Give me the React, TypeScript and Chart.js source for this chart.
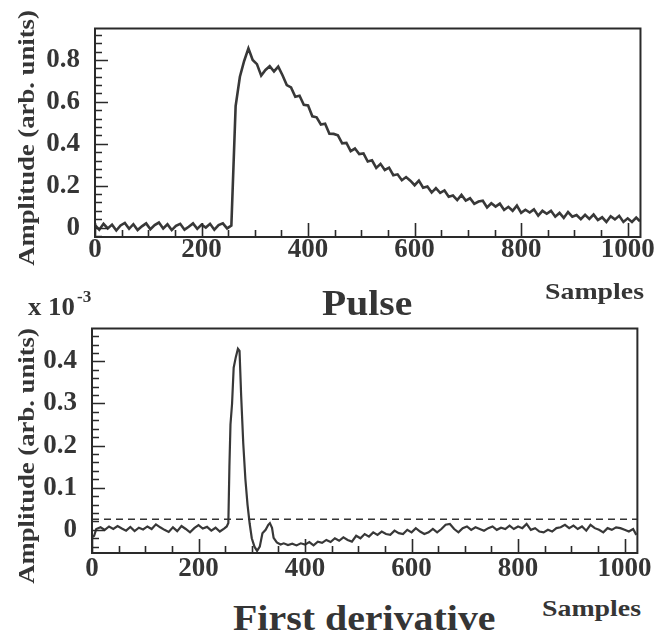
import React, { useEffect, useRef } from "react";
import { Chart, registerables } from "chart.js";

Chart.register(...registerables);

// ---------- data ----------
const SAMPLE_STEP = 8;
const LAST_SAMPLE = 1023;

// Pulse amplitude (arb. units), one value every SAMPLE_STEP samples (last = sample 1023)
const pulseValues = [
  0.012, -0.010, 0.018, -0.004, 0.014, -0.014, 0.010, 0.022, -0.006, 0.016,
  -0.012, 0.006, 0.020, -0.008, 0.012, 0.024, -0.004, 0.016, -0.012, 0.008,
  0.018, -0.010, 0.004, 0.020, -0.006, 0.014, 0.000, 0.018, -0.010, 0.012,
  0.020, -0.004, 0.010,
  0.58, 0.72, 0.795, 0.855, 0.80, 0.78, 0.725, 0.752, 0.77, 0.745, 0.768,
  0.727, 0.680, 0.669, 0.624, 0.629, 0.586, 0.583, 0.531, 0.526, 0.492,
  0.496, 0.448, 0.447, 0.440, 0.402, 0.404, 0.365, 0.377, 0.351, 0.354,
  0.315, 0.321, 0.285, 0.304, 0.275, 0.286, 0.250, 0.254, 0.226, 0.241,
  0.224, 0.202, 0.224, 0.190, 0.196, 0.167, 0.188, 0.166, 0.177, 0.147,
  0.153, 0.131, 0.156, 0.129, 0.140, 0.113, 0.124, 0.128, 0.096, 0.116,
  0.100, 0.114, 0.084, 0.099, 0.080, 0.105, 0.070, 0.085, 0.072, 0.087,
  0.057, 0.080, 0.066, 0.080, 0.052, 0.070, 0.046, 0.074, 0.052, 0.060,
  0.040, 0.061, 0.041, 0.062, 0.036, 0.049, 0.027, 0.054, 0.039, 0.056,
  0.027, 0.044, 0.027, 0.048,
  0.030,
];

// First derivative (units of 10^-3)
const derivSamples = [
  0, 4, 8, 16, 24, 32, 40, 48, 56, 64, 72, 80, 88, 96, 104, 112, 120, 128, 136, 144,
  152, 160, 168, 176, 184, 192, 200, 208, 216, 224, 232, 240, 248, 253, 256, 258, 260, 263, 266, 270,
  274, 277, 280, 284, 288, 292, 296, 300, 305, 310, 315, 320, 326, 331, 334, 338, 341, 347, 354, 360,
  368, 376, 384, 392, 400, 408, 416, 424, 432, 440, 448, 456, 464, 472, 480, 488, 496, 504, 512, 520,
  528, 536, 544, 552, 560, 568, 576, 584, 592, 600, 608, 616, 624, 632, 640, 648, 656, 664, 672, 680,
  688, 696, 704, 712, 720, 728, 736, 744, 752, 760, 768, 776, 784, 792, 800, 808, 816, 824, 832, 840,
  848, 856, 864, 872, 880, 888, 896, 904, 912, 920, 928, 936, 944, 952, 960, 968, 976, 984, 992, 1000,
  1008, 1016, 1022,
];
const derivValues = [
  -0.018, -0.014, 0.002, 0.006, 0.000, 0.008, 0.002, 0.009, 0.003, -0.002, 0.007, -0.003, 0.005, 0.001, 0.008, 0.002, 0.013, 0.006, 0.000, -0.005,
  0.006, -0.003, 0.009, 0.002, -0.006, 0.004, 0.011, 0.003, 0.007, -0.002, 0.005, -0.004, 0.003, 0.008, 0.016, 0.15, 0.25, 0.30, 0.385, 0.41,
  0.43, 0.425, 0.32, 0.205, 0.12, 0.06, 0.015, -0.02, -0.04, -0.05, -0.04, -0.008, 0.0, 0.012, 0.016, 0.005, -0.019, -0.03, -0.035, -0.032,
  -0.036, -0.033, -0.037, -0.032, -0.035, -0.029, -0.037, -0.028, -0.031, -0.024, -0.029, -0.020, -0.026, -0.018, -0.024, -0.028, -0.014, -0.020, -0.010, -0.016,
  -0.006, -0.012, -0.004, -0.010, -0.012, -0.002, -0.008, -0.010, 0.000, -0.006, 0.004, -0.004, -0.010, -0.006, 0.002, -0.006, 0.002, 0.012, 0.014, 0.002,
  -0.006, 0.004, 0.008, 0.000, 0.006, 0.002, -0.002, 0.004, 0.008, 0.000, 0.005, 0.002, 0.010, 0.002, 0.008, 0.004, 0.014, 0.000, 0.004, -0.004,
  -0.006, 0.000, -0.004, 0.004, 0.006, 0.012, 0.004, 0.010, 0.002, 0.008, -0.002, 0.012, 0.004, 0.000, -0.006, 0.004, 0.000, 0.006, 0.004, 0.000,
  -0.004, 0.002, -0.012,
];

const thresholdSamples = [0, 1024];
const thresholdValues = [0.025, 0.025];

const xTickValues = [0, 200, 400, 600, 800, 1000];
const pulseYTicks = [0, 0.2, 0.4, 0.6, 0.8];
const derivYTicks = [0, 0.1, 0.2, 0.3, 0.4];

// ---------- styling ----------
const INK = "#353535";
const SERIF = "'Liberation Serif', 'Times New Roman', serif";

const framePlugin = {
  id: "frameTicks",
  afterDatasetsDraw(chart: any, _args: any, opts: any) {
    const { ctx, chartArea: a, scales } = chart;
    const xs = scales.x;
    const ys = scales.y;
    ctx.save();
    ctx.strokeStyle = "#2a2a2a";
    ctx.lineWidth = 1.6;
    ctx.beginPath();
    const kx0 = Math.ceil(xs.min / opts.xStep);
    for (let k = kx0; k * opts.xStep <= xs.max; k++) {
      const v = k * opts.xStep;
      const major = Math.abs(v / opts.xMajor - Math.round(v / opts.xMajor)) < 1e-6;
      const px = Math.round(xs.getPixelForValue(v)) + 0.5;
      const len = major ? 14 : 7;
      ctx.moveTo(px, a.bottom);
      ctx.lineTo(px, a.bottom - len);
    }
    const ky0 = Math.ceil(ys.min / opts.yStep - 1e-9);
    for (let k = ky0; k * opts.yStep <= ys.max + 1e-9; k++) {
      const v = k * opts.yStep;
      const major = Math.abs(v / opts.yMajor - Math.round(v / opts.yMajor)) < 1e-6;
      const py = Math.round(ys.getPixelForValue(v)) + 0.5;
      const len = major ? 13 : 7;
      ctx.moveTo(a.left, py);
      ctx.lineTo(a.left + len, py);
    }
    ctx.stroke();
    ctx.lineWidth = 2;
    ctx.strokeRect(a.left, a.top, a.right - a.left, a.bottom - a.top);
    ctx.restore();
  },
};

function makeConfig(opts: {
  datasets: any[];
  yMin: number;
  yMax: number;
  yTicks: number[];
  padTop: number;
  padRight: number;
  yWidth: number;
  xHeight: number;
  xLabelPad: number;
  yStep: number;
  yMajor: number;
}) {
  const tickFont = { family: SERIF, size: 27, weight: "bold" as const, lineHeight: 1 };
  return {
    type: "line" as const,
    data: { datasets: opts.datasets },
    plugins: [framePlugin],
    options: {
      responsive: false,
      animation: false as const,
      events: [],
      layout: { padding: { top: opts.padTop, right: opts.padRight, left: 0, bottom: 0 } },
      plugins: {
        legend: { display: false },
        tooltip: { enabled: false },
        frameTicks: { xStep: 50, xMajor: 200, yStep: opts.yStep, yMajor: opts.yMajor },
      },
      scales: {
        x: {
          type: "linear" as const,
          min: 0,
          max: 1024,
          grid: { display: false, drawTicks: false },
          border: { display: false },
          ticks: {
            font: tickFont,
            color: INK,
            padding: opts.xLabelPad,
            autoSkip: false,
            maxRotation: 0,
            callback: (v: any) => String(v),
          },
          afterBuildTicks: (s: any) => {
            s.ticks = xTickValues.map((v) => ({ value: v }));
          },
          afterFit: (s: any) => {
            s.height = opts.xHeight;
          },
        },
        y: {
          type: "linear" as const,
          min: opts.yMin,
          max: opts.yMax,
          grid: { display: false, drawTicks: false },
          border: { display: false },
          ticks: {
            font: tickFont,
            color: INK,
            padding: 15,
            autoSkip: false,
            callback: (v: any) => String(v),
          },
          afterBuildTicks: (s: any) => {
            s.ticks = opts.yTicks.map((v) => ({ value: v }));
          },
          afterFit: (s: any) => {
            s.width = opts.yWidth;
          },
        },
      },
    },
  };
}

const textBase: React.CSSProperties = {
  position: "absolute",
  fontFamily: SERIF,
  fontWeight: "bold",
  color: INK,
  whiteSpace: "nowrap",
  lineHeight: 1,
  transformOrigin: "left top",
};

export default function App() {
  const topRef = useRef<HTMLCanvasElement>(null);
  const botRef = useRef<HTMLCanvasElement>(null);

  useEffect(() => {
    const pulseData = pulseValues.map((y, i) => ({
      x: Math.min(i * SAMPLE_STEP, LAST_SAMPLE),
      y,
    }));
    const derivData = derivSamples.map((x, i) => ({ x, y: derivValues[i] }));
    const threshData = thresholdSamples.map((x, i) => ({ x, y: thresholdValues[i] }));

    const top = new Chart(
      topRef.current as HTMLCanvasElement,
      makeConfig({
        datasets: [
          {
            data: pulseData,
            borderColor: "#383838",
            borderWidth: 2.6,
            pointRadius: 0,
            tension: 0,
            fill: false,
          },
        ],
        yMin: -0.045,
        yMax: 0.95,
        yTicks: pulseYTicks,
        padTop: 11,
        padRight: 13,
        yWidth: 95,
        xHeight: 53,
        xLabelPad: 0,
        yStep: 0.04,
        yMajor: 0.2,
      }) as any
    );

    const bot = new Chart(
      botRef.current as HTMLCanvasElement,
      makeConfig({
        datasets: [
          {
            data: threshData,
            borderColor: "#333333",
            borderWidth: 1.5,
            borderDash: [7, 5],
            pointRadius: 0,
            fill: false,
          },
          {
            data: derivData,
            borderColor: "#383838",
            borderWidth: 2.2,
            pointRadius: 0,
            tension: 0,
            fill: false,
          },
        ],
        yMin: -0.055,
        yMax: 0.478,
        yTicks: derivYTicks,
        padTop: 26,
        padRight: 17,
        yWidth: 92,
        xHeight: 37,
        xLabelPad: 3,
        yStep: 0.02,
        yMajor: 0.1,
      }) as any
    );

    return () => {
      top.destroy();
      bot.destroy();
    };
  }, []);

  return (
    <div
      style={{
        position: "absolute",
        left: 0,
        top: 0,
        width: 655,
        height: 641,
        background: "#ffffff",
        overflow: "hidden",
      }}
    >
      <canvas
        ref={topRef}
        width={655}
        height={290}
        style={{ position: "absolute", left: 0, top: 0, width: 655, height: 290 }}
      />
      <canvas
        ref={botRef}
        width={655}
        height={290}
        style={{ position: "absolute", left: 0, top: 300, width: 655, height: 290 }}
      />

      {/* y-axis titles */}
      <div
        style={{
          ...textBase,
          fontSize: 23,
          left: 26,
          top: 138,
          transformOrigin: "center center",
          transform: "translate(-50%, -50%) rotate(-90deg) scaleX(1.16)",
        }}
      >
        Amplitude (arb. units)
      </div>
      <div
        style={{
          ...textBase,
          fontSize: 23,
          left: 26,
          top: 456,
          transformOrigin: "center center",
          transform: "translate(-50%, -50%) rotate(-90deg) scaleX(1.16)",
        }}
      >
        Amplitude (arb. units)
      </div>

      {/* x-axis titles */}
      <div style={{ ...textBase, fontSize: 24, left: 545, top: 279, transform: "scaleX(1.16)" }}>
        Samples
      </div>
      <div style={{ ...textBase, fontSize: 24, left: 542, top: 596, transform: "scaleX(1.16)" }}>
        Samples
      </div>

      {/* panel titles */}
      <div style={{ ...textBase, fontSize: 36, left: 322, top: 285, transform: "scaleX(1.1)" }}>
        Pulse
      </div>
      <div style={{ ...textBase, fontSize: 35, left: 233, top: 601, transform: "scaleX(1.14)" }}>
        First derivative
      </div>

      {/* exponent */}
      <div style={{ ...textBase, fontSize: 25, left: 28, top: 294, transform: "scaleX(1.07)" }}>
        x 10
        <span style={{ fontSize: 16, position: "relative", top: -13, marginLeft: 2 }}>-3</span>
      </div>
    </div>
  );
}
